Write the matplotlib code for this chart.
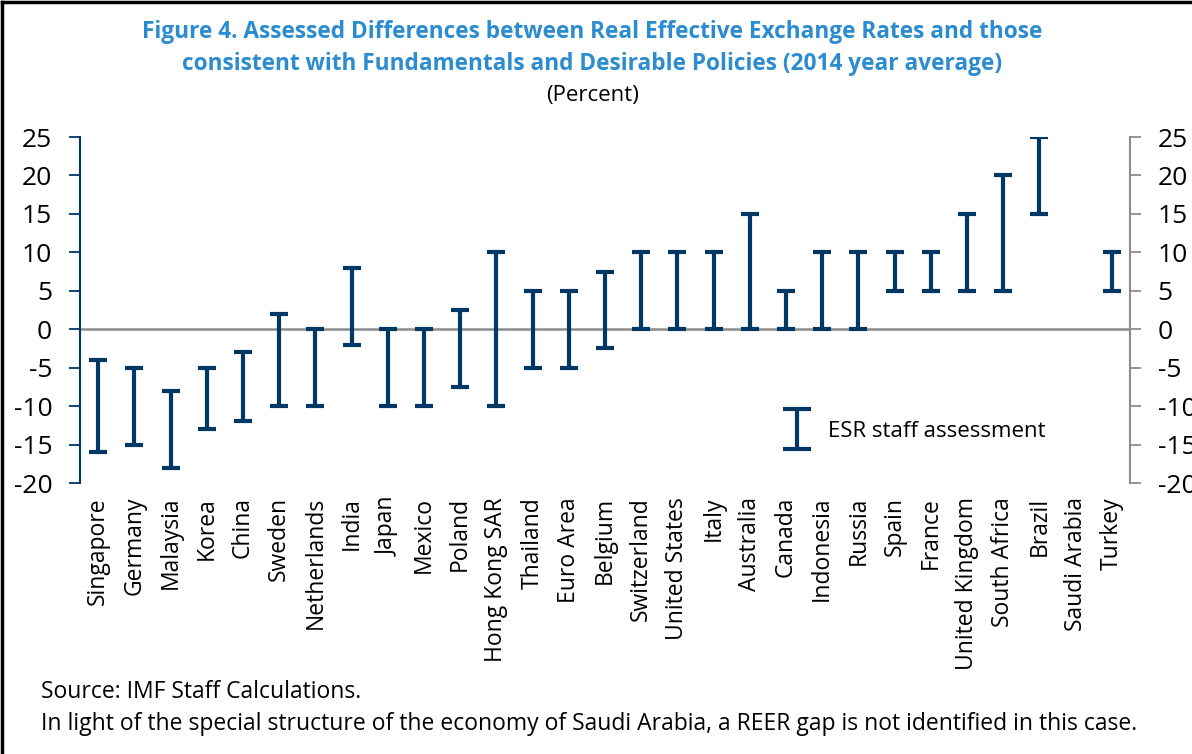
import numpy as np
import matplotlib
matplotlib.use("Agg")
import matplotlib.pyplot as plt
from matplotlib.lines import Line2D
from matplotlib.container import ErrorbarContainer
from matplotlib.legend_handler import HandlerErrorbar

plt.rcParams['font.family'] = ['Open Sans', 'DejaVu Sans']

countries = ["Singapore", "Germany", "Malaysia", "Korea", "China", "Sweden",
             "Netherlands", "India", "Japan", "Mexico", "Poland", "Hong Kong SAR",
             "Thailand", "Euro Area", "Belgium", "Switzerland", "United States",
             "Italy", "Australia", "Canada", "Indonesia", "Russia", "Spain",
             "France", "United Kingdom", "South Africa", "Brazil", "Saudi Arabia",
             "Turkey"]
low = [-16, -15, -18, -13, -12, -10, -10, -2, -10, -10, -7.5, -10, -5, -5, -2.5,
       0, 0, 0, 0, 0, 0, 0, 5, 5, 5, 5, 15, np.nan, 5]
high = [-4, -5, -8, -5, -3, 2, 0, 8, 0, 0, 2.5, 10, 5, 5, 7.5,
        10, 10, 10, 15, 5, 10, 10, 10, 10, 15, 20, 25, np.nan, 10]
yticks = [-20, -15, -10, -5, 0, 5, 10, 15, 20, 25]

navy = "#003865"
grey = "#8c8c8c"
title_blue = "#2b8ccf"

lo = np.array(low, dtype=float)
hi = np.array(high, dtype=float)
mid = (lo + hi) / 2
err = (hi - lo) / 2
x = np.arange(len(countries))

fig = plt.figure(figsize=(11.92, 7.54), dpi=100)
ax = fig.add_axes([0.0671, 0.3594, 0.8809, 0.4589])

ax.axhline(0, color=grey, lw=1.8, zorder=1)
ax.errorbar(x, mid, yerr=err, fmt='none', ecolor=navy, elinewidth=3.0,
            capsize=6.5, capthick=3.0, zorder=3)
# legend proxy with wider caps, like the reference key
proxy = ax.errorbar([np.nan], [np.nan], yerr=[1], fmt='none', ecolor=navy,
                    elinewidth=3.0, capsize=10, capthick=3.0,
                    label="ESR staff assessment")

ax.set_xlim(-0.5, len(countries) - 0.5)
ax.set_ylim(-20, 25)
ax.set_yticks(yticks)
ax.set_yticklabels([str(v) for v in yticks])
ax.set_xticks(x)
ax.set_xticklabels(countries, rotation=90, fontsize=16.5)
ax.tick_params(axis='x', length=0, pad=10)
ax.tick_params(axis='y', direction='out', length=8, width=1.3, color=navy,
               labelsize=19, pad=12)

for s in ["top", "bottom", "right"]:
    ax.spines[s].set_visible(False)
ax.spines["left"].set_color(navy)
ax.spines["left"].set_linewidth(1.5)

ax2 = ax.twinx()
ax2.set_ylim(-20, 25)
ax2.set_yticks(yticks)
ax2.set_yticklabels([str(v) for v in yticks])
ax2.tick_params(axis='y', direction='out', length=8, width=1.3, color=grey,
                labelsize=19, pad=12)
for s in ["top", "bottom", "left"]:
    ax2.spines[s].set_visible(False)
ax2.spines["right"].set_color(grey)
ax2.spines["right"].set_linewidth(1.5)

ax.legend(handles=[proxy], loc="center left", bbox_to_anchor=(0.666, 0.15),
          frameon=False, fontsize=16, handlelength=1.6, handletextpad=0.6,
          borderpad=0, borderaxespad=0,
          handler_map={ErrorbarContainer: HandlerErrorbar(yerr_size=0.9)})

fig.text(0.497, 0.958, "Figure 4. Assessed Differences between Real Effective Exchange Rates and those",
         ha='center', va='center', fontsize=16.3, fontweight='bold', color=title_blue)
fig.text(0.497, 0.915, "consistent with Fundamentals and Desirable Policies (2014 year average)",
         ha='center', va='center', fontsize=16.3, fontweight='bold', color=title_blue)
fig.text(0.497, 0.873, "(Percent)", ha='center', va='center', fontsize=16)

fig.text(0.034, 0.082, "Source: IMF Staff Calculations.", ha='left', va='center', fontsize=16.5)
fig.text(0.034, 0.04, "In light of the special structure of the economy of Saudi Arabia, a REER gap is not identified in this case.",
         ha='left', va='center', fontsize=16.5)

fig.add_artist(Line2D([0.002, 0.002], [0, 0.997], color='black', lw=2.5, transform=fig.transFigure))
fig.add_artist(Line2D([0.002, 1], [0.997, 0.997], color='black', lw=2.5, transform=fig.transFigure))

fig.savefig("out.png", dpi=100)
